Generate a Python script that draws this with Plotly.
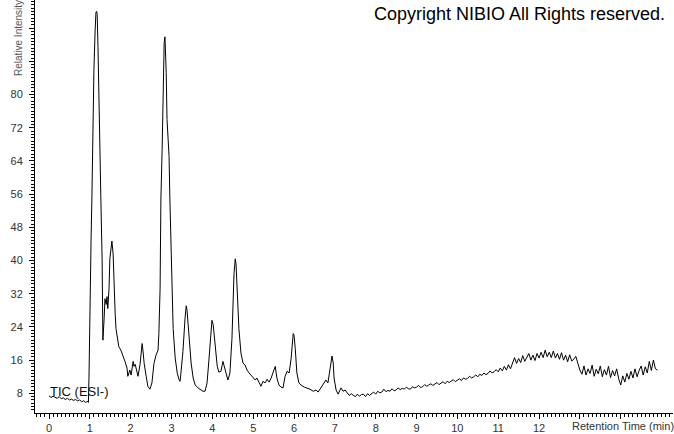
import plotly.graph_objects as go

# TIC (ESI-) chromatogram
retention_time = [
    0.00, 0.05, 0.10, 0.15, 0.20, 0.25, 0.30, 0.35, 0.40, 0.45,
    0.50, 0.55, 0.60, 0.65, 0.70, 0.75, 0.80, 0.85, 0.90, 0.95,
    0.965, 0.98, 1.00, 1.03, 1.05, 1.08, 1.10, 1.13, 1.15, 1.17,
    1.18, 1.20, 1.22, 1.25, 1.27, 1.30, 1.32, 1.35, 1.37, 1.40,
    1.42, 1.44, 1.47, 1.49, 1.52, 1.54, 1.57, 1.59, 1.62, 1.64,
    1.67, 1.71, 1.76, 1.81, 1.86, 1.91, 1.93, 1.98, 2.01, 2.06,
    2.08, 2.11, 2.16, 2.18, 2.23, 2.28, 2.30, 2.33, 2.38, 2.42,
    2.47, 2.52, 2.57, 2.62, 2.67, 2.69, 2.72, 2.74, 2.77, 2.79,
    2.82, 2.84, 2.87, 2.89, 2.94, 2.96, 2.99, 3.01, 3.04, 3.09,
    3.14, 3.18, 3.21, 3.23, 3.28, 3.33, 3.36, 3.38, 3.43, 3.48,
    3.53, 3.58, 3.65, 3.72, 3.77, 3.82, 3.87, 3.92, 3.97, 3.99,
    4.02, 4.07, 4.12, 4.16, 4.21, 4.26, 4.29, 4.34, 4.38, 4.43,
    4.48, 4.53, 4.56, 4.58, 4.60, 4.65, 4.70, 4.75, 4.80, 4.85,
    4.90, 4.95, 5.00, 5.05, 5.09, 5.14, 5.19, 5.24, 5.29, 5.34,
    5.39, 5.44, 5.49, 5.54, 5.58, 5.63, 5.68, 5.73, 5.78, 5.83,
    5.88, 5.93, 5.98, 6.00, 6.03, 6.07, 6.12, 6.17, 6.25, 6.32,
    6.39, 6.47, 6.54, 6.59, 6.66, 6.74, 6.78, 6.83, 6.88, 6.93,
    6.96, 6.98, 7.03, 7.08, 7.15, 7.20, 7.25,
    7.30, 7.35, 7.40, 7.45, 7.50, 7.55, 7.60, 7.65, 7.70, 7.75,
    7.80, 7.85, 7.90, 7.95, 8.00, 8.05, 8.10, 8.15, 8.20, 8.25,
    8.30, 8.35, 8.40, 8.45, 8.50, 8.55, 8.60, 8.65, 8.70, 8.75,
    8.80, 8.85, 8.90, 8.95, 9.00, 9.05, 9.10, 9.15, 9.20, 9.25,
    9.30, 9.35, 9.40, 9.45, 9.50, 9.55, 9.60, 9.65, 9.70, 9.75,
    9.80, 9.85, 9.90, 9.95, 10.00, 10.05, 10.10, 10.15, 10.20, 10.25,
    10.30, 10.35, 10.40, 10.45, 10.50, 10.55, 10.60, 10.65, 10.70, 10.75,
    10.80, 10.85, 10.90, 10.95, 11.00, 11.05, 11.10, 11.15, 11.20, 11.25,
    11.30, 11.35, 11.40, 11.45, 11.50, 11.55, 11.60, 11.65, 11.70, 11.75,
    11.80, 11.85, 11.90, 11.95, 12.00, 12.05, 12.10, 12.15, 12.20, 12.25,
    12.30, 12.35, 12.40, 12.45, 12.50, 12.55, 12.60, 12.65, 12.70, 12.75,
    12.80, 12.85, 12.90, 12.95, 13.00, 13.05, 13.10, 13.15, 13.20, 13.25,
    13.30, 13.35, 13.40, 13.45, 13.50, 13.55, 13.60, 13.65, 13.70, 13.75,
    13.80, 13.85, 13.90, 13.95, 14.00, 14.05, 14.10, 14.15, 14.20, 14.25,
    14.30, 14.35, 14.40, 14.45, 14.50, 14.55, 14.60, 14.65, 14.70, 14.75,
    14.80, 14.85, 14.90,
]

relative_intensity = [
    7.4, 7.0, 7.3, 7.1, 6.8, 7.2, 6.7, 6.9, 6.5, 6.8,
    6.4, 6.6, 6.3, 6.5, 6.2, 6.4, 6.0, 6.2, 5.8, 6.1,
    5.8, 12.4, 30.8, 45.2, 54.8, 76.4, 86.0, 95.6, 99.9, 100.0,
    99.2, 91.3, 78.8, 63.7, 54.8, 40.4, 20.8, 26.0, 30.8, 29.4,
    31.3, 28.4, 33.2, 40.4, 44.0, 44.7, 41.6, 34.4, 27.2, 23.6,
    21.2, 19.2, 18.4, 17.2, 15.7, 14.1, 12.1, 13.6, 12.4, 15.7,
    14.5, 15.0, 13.3, 12.1, 15.0, 20.0, 18.4, 15.2, 12.1, 9.7,
    9.0, 10.5, 15.2, 17.2, 18.4, 22.4, 33.2, 54.8, 66.8, 81.9,
    92.5, 93.9, 85.3, 74.0, 65.1, 54.8, 42.8, 30.8, 23.6, 16.5,
    12.9, 11.4, 10.9, 12.9, 18.1, 26.0, 29.1, 28.0, 21.2, 15.3,
    11.7, 10.0, 9.3, 8.8, 8.5, 8.5, 10.5, 16.5, 23.6, 25.6,
    24.6, 18.8, 14.5, 13.1, 13.3, 15.7, 14.5, 12.1, 11.2, 12.9,
    21.2, 36.8, 40.4, 39.2, 33.2, 23.6, 17.7, 15.3, 14.8, 13.6,
    12.9, 12.4, 11.7, 11.2, 11.7, 10.5, 9.7, 10.9, 10.5, 11.4,
    10.7, 11.7, 12.9, 14.5, 11.7, 10.0, 9.5, 9.3, 12.1, 13.3,
    12.9, 16.5, 22.4, 22.0, 18.8, 12.9, 10.5, 10.0, 9.5, 9.3,
    9.0, 8.5, 8.8, 8.3, 9.3, 10.7, 11.2, 10.5, 14.1, 17.0,
    15.3, 11.7, 8.8, 7.8, 9.3, 8.5, 8.8,
    8.1, 7.5, 7.9, 7.6, 7.2, 7.8, 7.3, 7.7, 7.8, 7.2,
    7.9, 7.5, 8.0, 8.3, 7.8, 8.5, 8.1, 8.3, 9.0, 8.4,
    8.7, 8.5, 9.1, 8.6, 8.8, 9.3, 8.9, 9.2, 9.0, 9.5,
    9.1, 9.0, 9.6, 9.3, 9.5, 9.9, 9.4, 9.6, 10.1, 9.7,
    10.0, 10.3, 9.9, 10.2, 10.6, 10.1, 10.4, 10.8, 10.3, 10.9,
    10.6, 11.0, 11.3, 10.8, 11.2, 11.5, 11.1, 11.7, 11.4, 11.6,
    12.1, 11.7, 12.0, 12.4, 12.0, 12.6, 12.3, 12.9, 12.5, 12.8,
    13.4, 12.9, 13.2, 13.7, 13.2, 14.1, 13.4, 14.5, 13.6, 14.9,
    13.9, 15.2, 16.6, 15.2, 16.4, 15.4, 17.1, 15.7, 16.6, 17.6,
    16.0, 17.2, 15.9, 17.6, 16.5, 17.9, 16.6, 18.4, 16.8, 17.9,
    16.6, 18.2, 16.5, 17.6, 16.2, 17.8, 16.0, 17.2, 15.6, 17.3,
    15.8, 16.2, 16.9, 15.0, 13.6, 12.6, 14.6, 12.4, 13.9, 12.8,
    14.8, 12.1, 13.8, 12.7, 14.6, 12.0, 13.7, 12.4, 14.5, 11.8,
    13.5, 12.2, 13.9, 11.5, 10.0, 12.2, 10.7, 12.8, 11.4, 13.3,
    11.7, 13.9, 12.0, 13.5, 14.6, 12.4, 14.4, 12.9, 15.7, 13.5,
    16.0, 13.9, 13.6,
]

x_tick_values = [0, 1, 2, 3, 4, 5, 6, 7, 8, 9, 10, 11, 12, 13, 14]
x_tick_labels = ["0", "1", "2", "3", "4", "5", "6", "7", "8", "9", "10", "11", "12", "", ""]
y_tick_values = [8, 16, 24, 32, 40, 48, 56, 64, 72, 80, 88, 96]
y_tick_labels = ["8", "16", "24", "32", "40", "48", "56", "64", "72", "80", "", ""]

FONT = "Liberation Sans, Arial, sans-serif"
TICK_COLOR = "#333333"

fig = go.Figure(
    go.Scatter(
        x=retention_time,
        y=relative_intensity,
        mode="lines",
        line=dict(color="black", width=1),
        hoverinfo="skip",
    )
)

axis_common = dict(
    showline=True,
    linecolor="black",
    linewidth=1,
    showgrid=False,
    zeroline=False,
    ticks="outside",
    ticklen=5,
    tickcolor="black",
    tickwidth=1,
    tickfont=dict(family=FONT, size=11, color=TICK_COLOR),
    fixedrange=True,
)

fig.update_xaxes(
    **axis_common,
    range=[-0.343, 15.28],
    tickmode="array",
    tickvals=x_tick_values,
    ticktext=x_tick_labels,
    minor=dict(ticks="outside", ticklen=3, tick0=0, dtick=0.1, tickcolor="black", showgrid=False),
)
fig.update_yaxes(
    **axis_common,
    range=[3.26, 102.78],
    tickmode="array",
    tickvals=y_tick_values,
    ticktext=y_tick_labels,
    ticklabelstandoff=4,
    minor=dict(ticks="outside", ticklen=3, tick0=0, dtick=0.8, tickcolor="black", showgrid=False),
)

fig.add_annotation(
    text="Copyright NIBIO All Rights reserved.",
    xref="paper", yref="paper", x=0.9906, y=0.966,
    xanchor="right", yanchor="middle", showarrow=False,
    font=dict(family=FONT, size=18, color="black"),
)
fig.add_annotation(
    text="TIC (ESI-)",
    xref="x", yref="y", x=-0.03, y=8.4,
    xanchor="left", yanchor="middle", showarrow=False,
    font=dict(family=FONT, size=13, color="#111111"),
)
fig.add_annotation(
    text="Relative Intensity",
    xref="paper", yref="paper", x=-0.026, y=0.812,
    xanchor="center", yanchor="bottom", textangle=-90, showarrow=False,
    font=dict(family=FONT, size=10, color="#555555"),
)
fig.add_annotation(
    text="Retention Time (min)",
    xref="paper", yref="paper", x=1.0, y=-0.031, xshift=3,
    xanchor="right", yanchor="middle", showarrow=False,
    font=dict(family=FONT, size=11, color=TICK_COLOR),
)

fig.update_layout(
    width=674,
    height=434,
    margin=dict(l=35, r=1, t=0, b=19),
    plot_bgcolor="white",
    paper_bgcolor="white",
    showlegend=False,
)

# drop the page's default body margin so the figure sits at the window's corner
fig.write_html(
    "out.html",
    config={"displayModeBar": False},
    post_script="document.body.style.margin = '0'; document.body.style.overflow = 'hidden';",
)
